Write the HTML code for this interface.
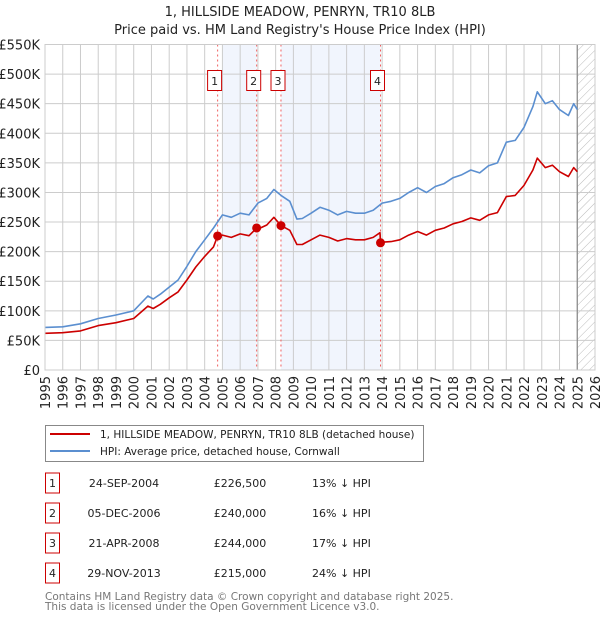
<!DOCTYPE html>
<html><head><meta charset="utf-8"><style>
body{margin:0;background:#fff;}
svg{display:block;font-family:"DejaVu Sans","Liberation Sans",sans-serif;}
</style></head><body>
<svg id="chart" width="600" height="620" viewBox="0 0 600 620" xmlns="http://www.w3.org/2000/svg">
<defs>
<pattern id="hatch" width="6" height="6" patternUnits="userSpaceOnUse" patternTransform="rotate(45)">
<line x1="0" y1="0" x2="0" y2="6" stroke="#bbb" stroke-width="1"/>
</pattern>
</defs>
<text x="300" y="16" text-anchor="middle" font-size="13" fill="#222">1, HILLSIDE MEADOW, PENRYN, TR10 8LB</text>
<text x="300" y="34" text-anchor="middle" font-size="13" fill="#222">Price paid vs. HM Land Registry's House Price Index (HPI)</text>
<g id="plot"></g>
<g>
<rect x="45.5" y="425.5" width="378" height="36" fill="#fff" stroke="#888"/>
<line x1="50" y1="434" x2="90" y2="434" stroke="#cc0000" stroke-width="2"/>
<text x="100" y="438" font-size="10.5" fill="#222">1, HILLSIDE MEADOW, PENRYN, TR10 8LB (detached house)</text>
<line x1="50" y1="451" x2="90" y2="451" stroke="#5b8fd0" stroke-width="2"/>
<text x="100" y="455" font-size="10.5" fill="#222">HPI: Average price, detached house, Cornwall</text>
</g>
<g id="table" font-size="11" fill="#222"></g>
<text x="45" y="600" font-size="10.5" fill="#777">Contains HM Land Registry data © Crown copyright and database right 2025.</text>
<text x="45" y="610" font-size="10.5" fill="#777">This data is licensed under the Open Government Licence v3.0.</text>
</svg>
<script>
const yTicks=[0,50000,100000,150000,200000,250000,300000,350000,400000,450000,500000,550000];
const yTickLabels=["£0","£50K","£100K","£150K","£200K","£250K","£300K","£350K","£400K","£450K","£500K","£550K"];
const xYears=[1995,1996,1997,1998,1999,2000,2001,2002,2003,2004,2005,2006,2007,2008,2009,2010,2011,2012,2013,2014,2015,2016,2017,2018,2019,2020,2021,2022,2023,2024,2025,2026];
const hpiDates=[1995,1996,1997,1998,1999,2000,2000.8,2001.1,2001.5,2002,2002.5,2003,2003.5,2004,2004.5,2005,2005.5,2006,2006.5,2007,2007.5,2007.9,2008.3,2008.8,2009.2,2009.5,2010,2010.5,2011,2011.5,2012,2012.5,2013,2013.5,2014,2014.5,2015,2015.5,2016,2016.5,2017,2017.5,2018,2018.5,2019,2019.5,2020,2020.5,2021,2021.5,2022,2022.5,2022.75,2023.2,2023.6,2024,2024.5,2024.8,2025];
const hpiValues=[72000,73000,78000,87000,93000,100000,125000,120000,128000,140000,152000,175000,200000,220000,240000,262000,258000,265000,262000,282000,290000,305000,295000,285000,255000,256000,265000,275000,270000,262000,268000,265000,265000,270000,282000,285000,290000,300000,308000,300000,310000,315000,325000,330000,338000,333000,345000,350000,385000,388000,410000,445000,470000,450000,455000,440000,430000,450000,440000];
const priceDates=[1995,1996,1997,1998,1999,2000,2000.8,2001.1,2001.5,2002,2002.5,2003,2003.5,2004,2004.5,2004.73,2005,2005.5,2006,2006.5,2006.93,2007,2007.5,2007.9,2008.3,2008.8,2009.2,2009.5,2010,2010.5,2011,2011.5,2012,2012.5,2013,2013.5,2013.88,2013.91,2014,2014.5,2015,2015.5,2016,2016.5,2017,2017.5,2018,2018.5,2019,2019.5,2020,2020.5,2021,2021.5,2022,2022.5,2022.75,2023.2,2023.6,2024,2024.5,2024.8,2025];
const priceValues=[62000,63000,66000,75000,80000,87000,108000,104000,111000,122000,132000,152000,174000,192000,208000,226500,228000,224000,230000,227000,240000,238000,245000,258000,244000,236000,212000,212000,220000,228000,224000,218000,222000,220000,220000,224000,232000,215000,216000,217000,220000,228000,234000,228000,236000,240000,247000,251000,257000,253000,262000,266000,293000,295000,312000,338000,358000,342000,346000,335000,327000,342000,335000];
const saleIds=["1","2","3","4"];
const saleDates=[2004.73,2006.93,2008.3,2013.91];
const saleValues=[226500,240000,244000,215000];
const saleDateLabels=["24-SEP-2004","05-DEC-2006","21-APR-2008","29-NOV-2013"];
const salePriceLabels=["£226,500","£240,000","£244,000","£215,000"];
const saleHpiLabels=["13% ↓ HPI","16% ↓ HPI","17% ↓ HPI","24% ↓ HPI"];

const NS="http://www.w3.org/2000/svg";
const X0=45,X1=595,Y0=370,Y1=44.5;
const xs=y=>X0+(y-1995)/(2026-1995)*(X1-X0);
const ys=v=>Y0-v/550000*(Y0-Y1);
const plot=document.getElementById('plot');
function mk(tag,attrs,parent){const e=document.createElementNS(NS,tag);for(const k in attrs)e.setAttribute(k,attrs[k]);(parent||plot).appendChild(e);return e;}

let e;
e=mk('rect',{x:X0,y:Y1,width:X1-X0,height:Y0-Y1,fill:'#fff'});


e=mk('rect',{x:xs(2005),y:Y1,width:xs(saleDates[1])-xs(2005),height:Y0-Y1,fill:'#eef3fc',opacity:0.8});


e=mk('rect',{x:xs(saleDates[2]),y:Y1,width:xs(saleDates[3])-xs(saleDates[2]),height:Y0-Y1,fill:'#eef3fc',opacity:0.8});


e=mk('rect',{x:xs(2025),y:Y1,width:X1-xs(2025),height:Y0-Y1,fill:'url(#hatch)'});


yTicks.forEach((t,i)=>{
  e=mk('line',{x1:X0,x2:X1,y1:ys(t),y2:ys(t),stroke:'#cccccc','stroke-width':1});
  
  
  e=mk('text',{x:40,y:ys(t)+5,'text-anchor':'end','font-size':13,fill:'#222'});
  e.textContent=yTickLabels[i];
  
  
});
xYears.forEach(yr=>{
  e=mk('line',{x1:xs(yr),x2:xs(yr),y1:Y1,y2:Y0,stroke:'#cccccc','stroke-width':1});
  
  
  e=mk('text',{x:0,y:0,'text-anchor':'end','font-size':13,fill:'#222',transform:`translate(${xs(yr)+5},376) rotate(-90)`});
  e.textContent=yr;
  
  
});
e=mk('line',{x1:xs(2025),x2:xs(2025),y1:Y1,y2:Y0,stroke:'#888','stroke-width':1.2});


saleDates.forEach((d,i)=>{
  e=mk('line',{x1:xs(d),x2:xs(d),y1:Y1,y2:Y0,stroke:'#f06060','stroke-width':1,'stroke-dasharray':'2,3'});
  
  
});
function path(dates,vals){return dates.map((d,i)=>(i?'L':'M')+xs(d).toFixed(1)+','+ys(vals[i]).toFixed(1)).join(' ');}
e=mk('path',{d:path(hpiDates,hpiValues),fill:'none',stroke:'#5b8fd0','stroke-width':1.6,'stroke-linejoin':'round'});


e=mk('path',{d:path(priceDates,priceValues),fill:'none',stroke:'#cc0000','stroke-width':1.6,'stroke-linejoin':'round'});


saleDates.forEach((d,i)=>{
  e=mk('circle',{cx:xs(d),cy:ys(saleValues[i]),r:4.5,fill:'#cc0000'});
  
  
  const bx=xs(d)-10;
  e=mk('rect',{x:bx.toFixed(1),y:70.5,width:14,height:20,fill:'#fff',stroke:'#cc0000','stroke-width':1});
  
  
  e=mk('text',{x:bx+7,y:85,'text-anchor':'middle','font-size':11,fill:'#222'});
  e.textContent=saleIds[i];
  
  
});
e=mk('rect',{x:X0,y:Y1,width:X1-X0,height:Y0-Y1,fill:'none',stroke:'#cccccc'});


const tbl=document.getElementById('table');
saleIds.forEach((id,i)=>{
  const cy=483+i*30;
  e=mk('rect',{x:45.5,y:cy-10,width:14,height:20,fill:'#fff',stroke:'#cc0000'},tbl);
  
  
  e=mk('text',{x:52.5,y:cy+4,'text-anchor':'middle'},tbl);e.textContent=id;
  
  
  e=mk('text',{x:124,y:cy+4,'text-anchor':'middle'},tbl);e.textContent=saleDateLabels[i];
  
  
  e=mk('text',{x:240,y:cy+4,'text-anchor':'middle'},tbl);e.textContent=salePriceLabels[i];
  
  
  e=mk('text',{x:312,y:cy+4},tbl);e.textContent=saleHpiLabels[i];
  
  
});
</script>
</body></html>
